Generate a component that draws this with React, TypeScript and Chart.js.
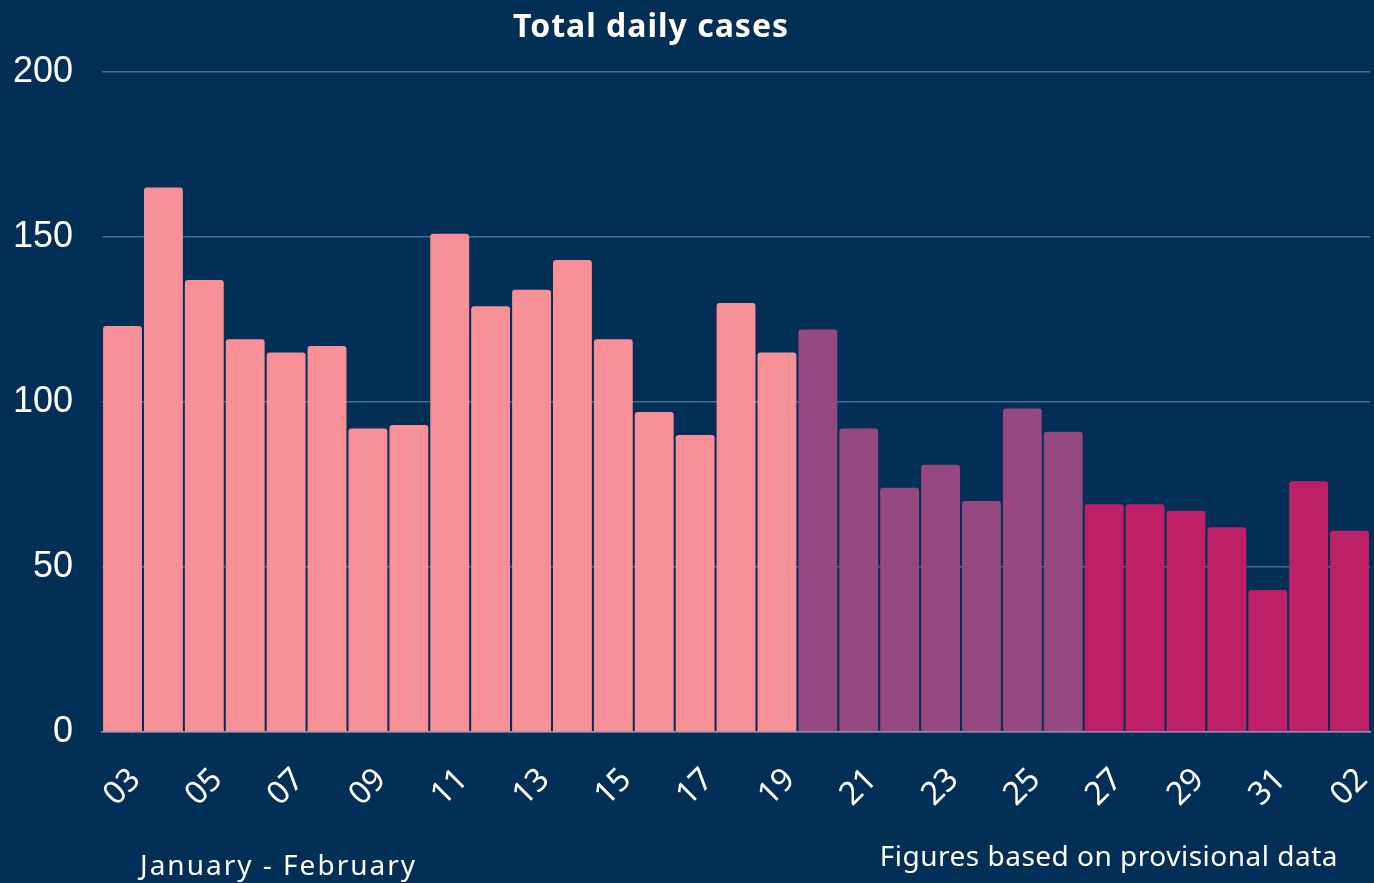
import React, { useEffect, useRef } from "react";
import { Chart, registerables } from "chart.js";

Chart.register(...registerables);

const dayLabels = [
  "03", "04", "05", "06", "07", "08", "09", "10", "11", "12", "13", "14", "15", "16", "17",
  "18", "19", "20", "21", "22", "23", "24", "25", "26", "27", "28", "29", "30", "31", "01", "02",
];

const dailyCases = [
  123, 165, 137, 119, 115, 117, 92, 93, 151, 129, 134, 143, 119, 97, 90,
  130, 115, 122, 92, 74, 81, 70, 98, 91, 69, 69, 67, 62, 43, 76, 61,
];

// period group per bar: 0 = pink, 1 = purple, 2 = magenta
const periodGroup = [
  0, 0, 0, 0, 0, 0, 0, 0, 0, 0, 0, 0, 0, 0, 0,
  0, 0, 1, 1, 1, 1, 1, 1, 1, 2, 2, 2, 2, 2, 2, 2,
];

const groupColors = ["#F89197", "#964880", "#BE2068"];

const yTicks = [0, 50, 100, 150, 200];

const titleText = "Total daily cases";
const xAxisNote = "January - February";
const footNote = "Figures based on provisional data";

const BG = "#032F57";
const Y_TICK_PAD = 29;

export default function App() {
  const canvasRef = useRef<HTMLCanvasElement | null>(null);

  useEffect(() => {
    document.body.style.margin = "0";
    document.body.style.background = BG;
    const canvas = canvasRef.current;
    if (!canvas) return;

    const textPlugin = {
      id: "texts",
      beforeDraw(chart: any) {
        const { ctx, width, height } = chart;
        ctx.save();
        ctx.fillStyle = BG;
        ctx.fillRect(0, 0, width, height);
        ctx.restore();
      },
      afterDraw(chart: any) {
        const { ctx } = chart;
        ctx.save();
        ctx.fillStyle = "#FFFDF5";
        ctx.textBaseline = "alphabetic";
        ctx.font = "bold 32px 'Noto Sans', sans-serif";
        ctx.textAlign = "center";
        (ctx as any).letterSpacing = "1px";
        ctx.fillText(titleText, 651, 37);
        ctx.font = "28px 'Noto Sans', sans-serif";
        ctx.textAlign = "left";
        (ctx as any).letterSpacing = "2px";
        ctx.fillText(xAxisNote, 140, 875);
        ctx.textAlign = "right";
        (ctx as any).letterSpacing = "0.5px";
        ctx.fillText(footNote, 1338, 866);
        ctx.restore();
      },
    };

    const chart = new Chart(canvas, {
      type: "bar",
      data: {
        labels: dayLabels,
        datasets: [
          {
            data: dailyCases,
            backgroundColor: periodGroup.map((g) => groupColors[g]),
            borderRadius: 3,
            borderSkipped: "start",
            categoryPercentage: 0.95,
            barPercentage: 1,
          },
        ],
      },
      options: {
        animation: false,
        responsive: false,
        maintainAspectRatio: false,
        layout: { padding: { left: 13, top: 72, right: 4, bottom: 40 } },
        plugins: {
          legend: { display: false },
          title: { display: false },
          tooltip: { enabled: false },
        },
        scales: {
          x: {
            afterFit: (axis: any) => {
              axis.paddingLeft = 0;
              axis.paddingRight = 0;
            },
            grid: { display: false, drawTicks: false },
            border: { display: true, color: "#8CA0B8", width: 1.5 },
            ticks: {
              autoSkip: false,
              maxRotation: 45,
              minRotation: 45,
              color: "#FFFFFF",
              font: { family: "'Noto Sans', sans-serif", size: 32 },
              padding: 29,
              labelOffset: 13,
              callback: (_v: any, i: number) => (i % 2 === 0 ? dayLabels[i] : ""),
            },
          },
          y: {
            min: yTicks[0],
            max: yTicks[yTicks.length - 1],
            afterBuildTicks: (axis: any) => {
              axis.ticks = yTicks.map((v) => ({ value: v }));
            },
            afterFit: (axis: any) => {
              axis.width = axis.width - Y_TICK_PAD;
            },
            grid: { color: "rgba(160,185,210,0.45)", lineWidth: 1.5, drawTicks: false },
            border: { display: false },
            ticks: {
              color: "#FFFFFF",
              font: { family: "'Liberation Sans', Arial, sans-serif", size: 36 },
              padding: Y_TICK_PAD,
            },
          },
        },
      },
      plugins: [textPlugin],
    });

    return () => chart.destroy();
  }, []);

  return <canvas ref={canvasRef} width={1374} height={883} style={{ display: "block" }} />;
}
